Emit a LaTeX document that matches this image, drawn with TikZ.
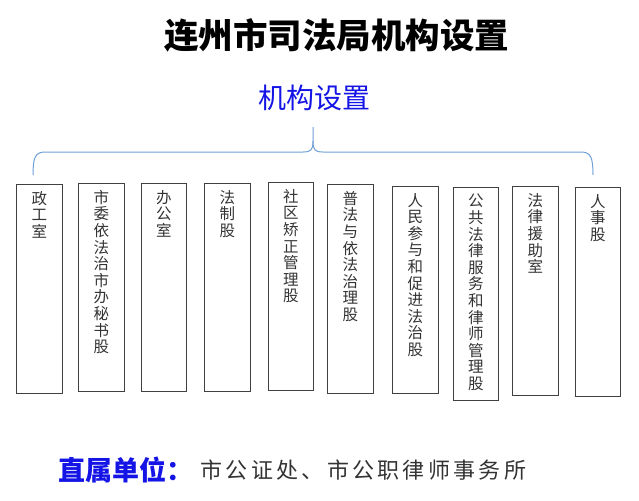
\documentclass[tikz,border=0pt]{standalone}
\usepackage{fontspec}
\newfontfamily\cjk{Noto Sans CJK SC}
\newfontfamily\cjkwide[LetterSpace=15]{Noto Sans CJK SC}
\usetikzlibrary{positioning}
\definecolor{bracecol}{RGB}{110,160,215}
\definecolor{headblue}{RGB}{20,20,230}
\tikzset{
	unit/.style={draw=black!75, rectangle, line width=0.9pt, inner sep=0pt, minimum width=46pt, anchor=north west},
	unittext/.style={align=center, inner sep=0pt, text=black!80, font=\cjk\fontsize{15.5}{16.6}\selectfont},
	% headings
	maintitle/.style={inner sep=0pt, font=\cjk\bfseries\fontsize{34.5}{40}\selectfont},
	subtitle/.style={inner sep=0pt, text=headblue, font=\cjk\fontsize{28}{32}\selectfont},
}

\begin{document}
\begin{tikzpicture}[x=1pt, y=-1pt]
	\useasboundingbox (0,0) rectangle (639,500);
	\node (title) [maintitle] at (336.5,35) {连州市司法局机构设置};
	\node (org) [subtitle] at (314,97.5) {机构设置};
	
	\node (zgs) [unit, minimum height=209pt] at (16,184) {};
	\node (swb) [unit, minimum height=208pt] at (78,183) {};
	\node (bgs) [unit, minimum height=208pt, minimum width=45pt] at (141,183) {};
	\node (fzg) [unit, minimum height=208pt] at (204,183) {};
	\node (sqj) [unit, minimum height=208pt, minimum width=45pt] at (268,182) {};
	\node (pfy) [unit, minimum height=209pt] at (327,184) {};
	\node (rmc) [unit, minimum height=207pt] at (392,186) {};
	\node (ggf) [unit, minimum height=213pt, minimum width=45pt] at (453,187) {};
	\node (flyz) [unit, minimum height=209pt] at (512,186) {};
	\node (rsg) [unit, minimum height=209pt, minimum width=45pt] at (575,187) {};
	
	\node (zgst) [unittext, below=7pt of zgs.north] {政\\工\\室};
	\node (swbt) [unittext, below=7pt of swb.north] {市\\委\\依\\法\\治\\市\\办\\秘\\书\\股};
	\node (bgst) [unittext, below=7pt of bgs.north] {办\\公\\室};
	\node (fzgt) [unittext, below=7pt of fzg.north] {法\\制\\股};
	\node (sqjt) [unittext, below=7pt of sqj.north] {社\\区\\矫\\正\\管\\理\\股};
	\node (pfyt) [unittext, below=7pt of pfy.north] {普\\法\\与\\依\\法\\治\\理\\股};
	\node (rmct) [unittext, below=7pt of rmc.north] {人\\民\\参\\与\\和\\促\\进\\法\\治\\股};
	\node (ggft) [unittext, below=7pt of ggf.north] {公\\共\\法\\律\\服\\务\\和\\律\\师\\管\\理\\股};
	\node (flyzt) [unittext, below=7pt of flyz.north] {法\\律\\援\\助\\室};
	\node (rsgt) [unittext, below=7pt of rsg.north] {人\\事\\股};
	
	% brace under the heading
	\coordinate (tip) at (313,127);
	\coordinate (bl) at (33,175);
	\coordinate (br) at (593,175);
	\draw[bracecol, line width=1pt] (bl) .. controls (33,158) and (35,152) .. (45,152) -- (303,152)
		.. controls (311,152) and (313,150) .. (313,141) -- (tip);
	\draw[bracecol, line width=1pt] (br) .. controls (593,158) and (591,152) .. (581,152) -- (323,152)
		.. controls (315,152) and (313,150) .. (313,141);
	
	\node (direct) [anchor=west, inner sep=0pt, text=headblue, font=\cjk\bfseries\fontsize{27}{30}\selectfont] at (58,470) {直属单位：};
	\node (directlist) [right=7pt of direct, inner sep=0pt, text=black!80, font=\cjkwide\fontsize{22}{26}\selectfont] {市公证处、市公职律师事务所};
\end{tikzpicture}
\end{document}
